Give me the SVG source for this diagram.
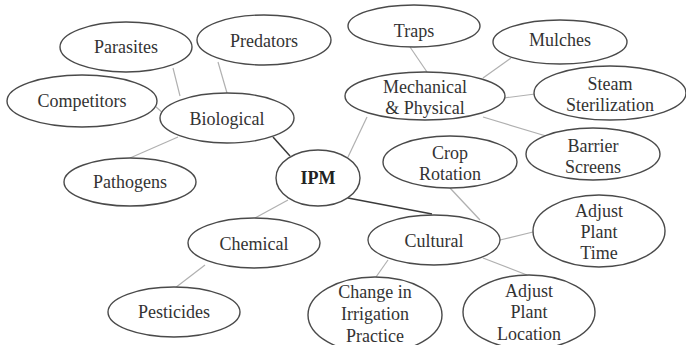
<svg xmlns="http://www.w3.org/2000/svg" width="686" height="345" viewBox="0 0 686 345" font-family="Liberation Serif">
  <style>
    .node ellipse { fill: #ffffff; stroke: #4a4a4a; stroke-width: 1.4; }
    .node text { font-size: 18px; fill: #333333; text-anchor: middle; }
    .root text { font-weight: bold; fill: #222222; }
    .edge { stroke: #b0b0b0; stroke-width: 1.2; fill: none; }
    .edge.main { stroke: #3a3a3a; stroke-width: 1.5; }
  </style>
  <rect width="686" height="345" fill="#ffffff"/>

  <g id="connectors">
    <line class="edge main" x1="273" y1="137" x2="290" y2="156"/>
    <line class="edge" x1="348" y1="157" x2="367" y2="117"/>
    <line class="edge main" x1="348" y1="198" x2="432" y2="214"/>
    <line class="edge" x1="288" y1="200" x2="255" y2="218"/>
    <line class="edge" x1="173" y1="68" x2="180" y2="96"/>
    <line class="edge" x1="218" y1="62" x2="227" y2="93"/>
    <line class="edge" x1="155" y1="106" x2="164" y2="114"/>
    <line class="edge" x1="178" y1="137" x2="130" y2="158"/>
    <line class="edge" x1="205" y1="265" x2="175" y2="288"/>
    <line class="edge" x1="410" y1="47" x2="427" y2="72"/>
    <line class="edge" x1="511" y1="58" x2="483" y2="78"/>
    <line class="edge" x1="504" y1="98" x2="535" y2="94"/>
    <line class="edge" x1="483" y1="117" x2="546" y2="136"/>
    <line class="edge" x1="450" y1="188" x2="480" y2="220"/>
    <line class="edge" x1="500" y1="240" x2="533" y2="232"/>
    <line class="edge" x1="388" y1="260" x2="376" y2="277"/>
    <line class="edge" x1="483" y1="258" x2="527" y2="275"/>
  </g>

  <g id="parasites" class="node"><ellipse cx="126" cy="47" rx="66" ry="25"/><text font-family="Liberation Serif" x="126" y="53">Parasites</text></g>
  <g id="predators" class="node"><ellipse cx="264" cy="40" rx="67" ry="25"/><text font-family="Liberation Serif" x="264" y="47">Predators</text></g>
  <g id="competitors" class="node"><ellipse cx="82" cy="101" rx="75" ry="26"/><text font-family="Liberation Serif" x="82" y="107">Competitors</text></g>
  <g id="biological" class="node"><ellipse cx="227" cy="118" rx="67" ry="25"/><text font-family="Liberation Serif" x="227" y="125">Biological</text></g>
  <g id="pathogens" class="node"><ellipse cx="130" cy="182" rx="66" ry="24"/><text font-family="Liberation Serif" x="130" y="188">Pathogens</text></g>
  <g id="ipm" class="node root"><ellipse cx="318" cy="178" rx="42" ry="28"/><text font-family="Liberation Serif" x="318" y="184">IPM</text></g>
  <g id="chemical" class="node"><ellipse cx="254" cy="243" rx="66" ry="25"/><text font-family="Liberation Serif" x="254" y="250">Chemical</text></g>
  <g id="pesticides" class="node"><ellipse cx="174" cy="312" rx="66" ry="25"/><text font-family="Liberation Serif" x="174" y="318">Pesticides</text></g>

  <g id="traps" class="node"><ellipse cx="414" cy="26" rx="66" ry="21"/><text font-family="Liberation Serif" x="414" y="37">Traps</text></g>
  <g id="mulches" class="node"><ellipse cx="560" cy="42" rx="67" ry="22"/><text font-family="Liberation Serif" x="560" y="46">Mulches</text></g>
  <g id="mechanical-physical" class="node"><ellipse cx="425" cy="96" rx="80" ry="24"/><text font-family="Liberation Serif" x="425" y="93">Mechanical</text><text font-family="Liberation Serif" x="425" y="114">&amp; Physical</text></g>
  <g id="steam-sterilization" class="node"><ellipse cx="610" cy="93" rx="76" ry="27"/><text font-family="Liberation Serif" x="610" y="90">Steam</text><text font-family="Liberation Serif" x="610" y="111">Sterilization</text></g>
  <g id="barrier-screens" class="node"><ellipse cx="593" cy="154" rx="67" ry="26"/><text font-family="Liberation Serif" x="593" y="152">Barrier</text><text font-family="Liberation Serif" x="593" y="173">Screens</text></g>

  <g id="crop-rotation" class="node"><ellipse cx="450" cy="162" rx="67" ry="26"/><text font-family="Liberation Serif" x="450" y="159">Crop</text><text font-family="Liberation Serif" x="450" y="180">Rotation</text></g>
  <g id="cultural" class="node"><ellipse cx="434" cy="240" rx="66" ry="25"/><text font-family="Liberation Serif" x="434" y="247">Cultural</text></g>
  <g id="adjust-plant-time" class="node"><ellipse cx="599" cy="231" rx="66" ry="36"/><text font-family="Liberation Serif" x="599" y="217">Adjust</text><text font-family="Liberation Serif" x="599" y="238">Plant</text><text font-family="Liberation Serif" x="599" y="259">Time</text></g>
  <g id="change-irrigation" class="node"><ellipse cx="375" cy="315" rx="67" ry="38"/><text font-family="Liberation Serif" x="375" y="298">Change in</text><text font-family="Liberation Serif" x="375" y="320">Irrigation</text><text font-family="Liberation Serif" x="375" y="342">Practice</text></g>
  <g id="adjust-plant-location" class="node"><ellipse cx="529" cy="312" rx="66" ry="37"/><text font-family="Liberation Serif" x="529" y="297">Adjust</text><text font-family="Liberation Serif" x="529" y="318">Plant</text><text font-family="Liberation Serif" x="529" y="340">Location</text></g>
</svg>
